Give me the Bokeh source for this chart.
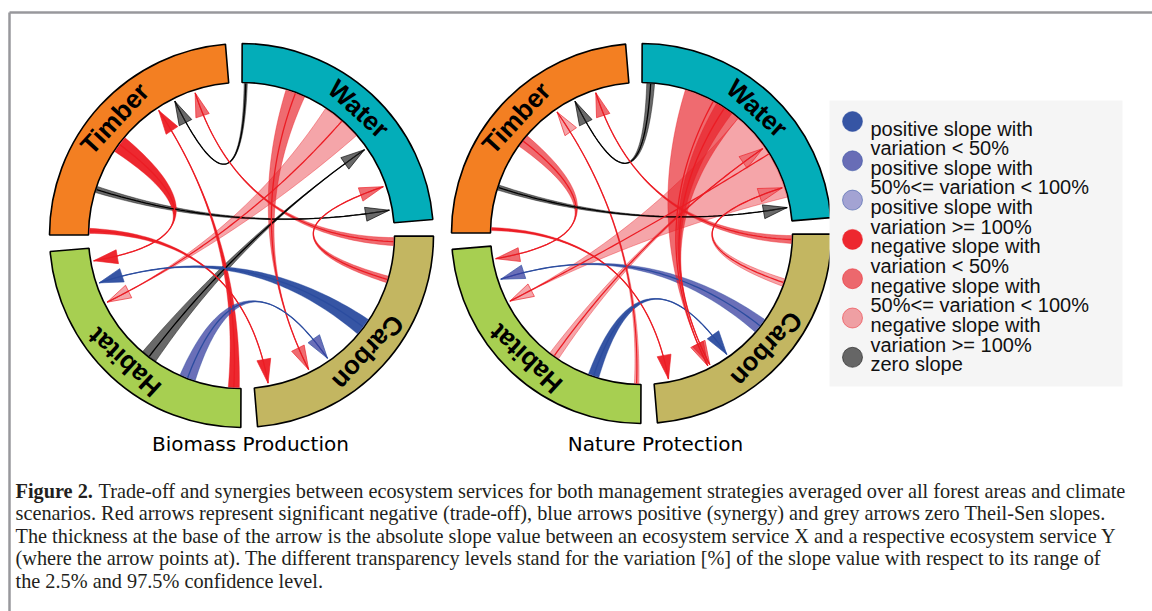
import numpy as np
from bokeh.plotting import figure
from bokeh.models import Range1d
from bokeh.embed import file_html
from bokeh.resources import INLINE
from bokeh.core.properties import value

# ---------------- data ----------------
services = ["Water", "Timber", "Habitat", "Carbon"]
sector_start = [4.8, 94.8, 184.8, 274.8]
sector_end = [89.8, 179.8, 269.8, 359.8]
sector_colors = ["#03adb9", "#f37f22", "#a7cf51", "#c3b661"]

classes = ["pos_low", "pos_mid", "pos_high", "neg_low", "neg_mid", "neg_high", "zero"]
class_fill = ["#2b4c9f", "#383fa0", "#4040ab", "#ec1c24", "#e71c23", "#e61e28", "#222222"]
class_alpha = [0.95, 0.75, 0.45, 0.95, 0.65, 0.40, 0.68]
class_line = ["#2b4c9f", "#2b4c9f", "#2b4c9f", "#ec1c24", "#ec1c24", "#ec1c24", "#000000"]
legend_line1 = ["positive slope with", "positive slope with", "positive slope with",
                "negative slope with", "negative slope with", "negative slope with", "zero slope"]
legend_line2 = ["variation < 50%", "50%<= variation < 100%", "variation >= 100%",
                "variation < 50%", "50%<= variation < 100%", "variation >= 100%", ""]

# Biomass Production
bp_source = ["Water", "Carbon", "Habitat", "Timber", "Timber", "Timber",
             "Habitat", "Water", "Water", "Carbon", "Carbon", "Habitat"]
bp_target = ["Timber", "Timber", "Water", "Water", "Habitat", "Carbon",
             "Timber", "Carbon", "Habitat", "Water", "Habitat", "Carbon"]
bp_base_from = [87.8, 356.2, 229.6, 161.2, 140.0, 177.3, 265.0, 65.5, 41.0, 342.0, 319.7, 246.2]
bp_base_to = [89.0, 359.2, 235.7, 163.6, 146.5, 179.2, 269.2, 73.0, 56.5, 344.5, 326.5, 252.3]
bp_tip = [116.4, 108.0, 34.9, 9.7, 189.7, 280.2, 123.5, 296.6, 206.4, 19.0, 198.4, 305.0]
bp_class = ["zero", "neg_mid", "zero", "zero", "neg_low", "neg_low",
            "neg_low", "neg_mid", "neg_high", "neg_mid", "pos_low", "pos_mid"]

# Nature Protection
np_source = ["Water", "Carbon", "Habitat", "Timber", "Timber", "Timber",
             "Carbon", "Habitat", "Habitat", "Water", "Water", "Water", "Carbon"]
np_target = ["Timber", "Timber", "Timber", "Habitat", "Water", "Carbon",
             "Habitat", "Carbon", "Water", "Habitat", "Carbon", "Carbon", "Water"]
np_base_from = [85.0, 356.2, 267.3, 139.5, 161.2, 177.7, 319.1, 249.3, 232.5, 14.0, 50.0, 53.0, 339.5]
np_base_to = [88.0, 359.2, 269.0, 144.5, 163.2, 178.9, 325.1, 253.5, 236.5, 50.0, 73.0, 60.0, 342.4]
np_tip = [116.7, 108.0, 124.8, 189.8, 10.1, 280.5, 198.0, 305.2, 35.0, 207.2, 296.6, 297.5, 18.0]
np_class = ["zero", "neg_mid", "neg_high", "neg_mid", "zero", "neg_low",
            "pos_mid", "pos_low", "neg_high", "neg_high", "neg_mid", "neg_mid", "neg_high"]

titles = ["Biomass Production", "Nature Protection"]
caption_bold = "Figure 2."
caption_lines = [
    "Trade-off and synergies between ecosystem services for both management strategies averaged over all forest areas and climate",
    "scenarios. Red arrows represent significant negative (trade-off), blue arrows positive (synergy) and grey arrows zero Theil-Sen slopes.",
    "The thickness at the base of the arrow is the absolute slope value between an ecosystem service X and a respective ecosystem service Y",
    "(where the arrow points at). The different transparency levels stand for the variation [%] of the slope value with respect to its range of",
    "the 2.5% and 97.5% confidence level.",
]

# ---------------- layout helpers ----------------
W, H = 1152, 611


def X(ix):
    return ix


def Y(iy):
    return H - iy


p = figure(width=W, height=H, x_range=Range1d(0, W), y_range=Range1d(0, H),
           output_backend="svg", toolbar_location=None, min_border=0)
p.axis.visible = False
p.grid.visible = False
p.outline_line_color = None

# frame lines
p.line(x=[9, W + 10], y=[Y(12), Y(12)], line_color="#98989c", line_width=2.5)
p.line(x=[9, 9], y=[Y(12), -10], line_color="#98989c", line_width=2.5)


def bez(p0, p2, n=60):
    t = np.linspace(0, 1, n)[:, None]
    return (1 - t) ** 2 * p0 + t ** 2 * p2  # control point at circle centre


def diagram(cx, cy, r_in, r_out, src, a_from, a_to, tip, cls, title, tx):
    p.annular_wedge(x=[cx] * 4, y=[cy] * 4, inner_radius=r_in, outer_radius=r_out,
                    start_angle=list(np.radians(sector_start)),
                    end_angle=list(np.radians(sector_end)),
                    fill_color=sector_colors, line_color="black", line_width=1.6)
    mids = [(a + b) / 2 for a, b in zip(sector_start, sector_end)]
    rl = (r_in + r_out) / 2
    p.text(x=[cx + rl * np.cos(np.radians(m)) for m in mids],
           y=[cy + rl * np.sin(np.radians(m)) for m in mids],
           text=services, angle=[np.radians(m - 90) for m in mids],
           text_font=value("Liberation Sans"), text_font_style="bold",
           text_font_size="26px", text_align="center", text_baseline="middle",
           text_color="black")

    rb = r_in - 1
    rt = r_in - 3
    rib_x, rib_y, rib_c, rib_a, rib_l = [], [], [], [], []
    ln_x, ln_y, ln_c = [], [], []
    ar_x, ar_y = [], []
    for a1, a2, t, c in zip(a_from, a_to, tip, cls):
        k = classes.index(c)
        A1, A2, T = np.radians(a1), np.radians(a2), np.radians(t)
        P1 = np.array([rb * np.cos(A1), rb * np.sin(A1)])
        P2 = np.array([rb * np.cos(A2), rb * np.sin(A2)])
        PT = np.array([rt * np.cos(T), rt * np.sin(T)])
        arc = np.linspace(A1, A2, 12)
        arcp = np.column_stack([rb * np.cos(arc), rb * np.sin(arc)])
        s2 = bez(P2, PT)
        s1 = bez(P1, PT)[::-1]
        poly = np.vstack([arcp, s2, s1])
        rib_x.append(list(poly[:, 0] + cx))
        rib_y.append(list(poly[:, 1] + cy))
        rib_c.append(class_fill[k])
        rib_a.append(class_alpha[k])
        rib_l.append(class_line[k])
        Am = (A1 + A2) / 2
        PM = np.array([rb * np.cos(Am), rb * np.sin(Am)])
        cl = bez(PM, PT)
        ln_x.append(list(cl[:, 0] + cx))
        ln_y.append(list(cl[:, 1] + cy))
        ln_c.append(class_line[k])
        u = PT / np.linalg.norm(PT)
        nrm = np.array([-u[1], u[0]])
        base = PT - 24 * u
        tri = np.array([PT, base + 7 * nrm, base - 7 * nrm])
        ar_x.append(list(tri[:, 0] + cx))
        ar_y.append(list(tri[:, 1] + cy))
    p.patches(xs=rib_x, ys=rib_y, fill_color=rib_c, fill_alpha=rib_a,
              line_color=rib_l, line_alpha=0.55, line_width=0.7)
    p.multi_line(xs=ln_x, ys=ln_y, line_color=ln_c, line_width=1.3)
    p.patches(xs=ar_x, ys=ar_y, fill_color=rib_c, fill_alpha=rib_a,
              line_color=rib_l, line_alpha=0.8, line_width=0.8)
    p.text(x=[tx], y=[Y(443)], text=[title], text_font=value("DejaVu Sans"),
           text_font_size="20px", text_align="center", text_baseline="middle",
           text_color="black")


diagram(X(241), Y(235), 153, 192, bp_source, bp_base_from, bp_base_to, bp_tip, bp_class,
        titles[0], X(250))
diagram(X(641), Y(233), 151, 190, np_source, np_base_from, np_base_to, np_tip, np_class,
        titles[1], X(655))

# legend
p.quad(left=X(829), right=X(1122), top=Y(100), bottom=Y(386),
       fill_color="#f5f5f5", line_color=None)
ly = [121 + 39.3 * i for i in range(7)]
p.circle(x=[X(852)] * 7, y=[Y(v) for v in ly], radius=10,
         fill_color=class_fill, fill_alpha=class_alpha, line_color=class_line,
         line_alpha=0.5, line_width=1)
p.text(x=[X(870)] * 7, y=[Y(v + 7) for v in ly], text=legend_line1,
       text_font=value("Liberation Sans"), text_font_size="20px",
       text_align="left", text_baseline="alphabetic", text_color="#111111")
p.text(x=[X(870)] * 7, y=[Y(v + 26.5) for v in ly], text=legend_line2,
       text_font=value("Liberation Sans"), text_font_size="20px",
       text_align="left", text_baseline="alphabetic", text_color="#111111")

# caption
cap_y = [490 + 22.5 * i for i in range(5)]
p.text(x=[X(15)], y=[Y(cap_y[0])], text=[caption_bold], text_font=value("Liberation Serif"),
       text_font_style="bold", text_font_size="20.3px", text_align="left",
       text_baseline="middle", text_color="#231f20")
p.text(x=[X(98)] + [X(15)] * 4, y=[Y(v) for v in cap_y], text=caption_lines,
       text_font=value("Liberation Serif"), text_font_size="20.3px", text_align="left",
       text_baseline="middle", text_color="#231f20")

open("out.html", "w").write(file_html(p, INLINE))
